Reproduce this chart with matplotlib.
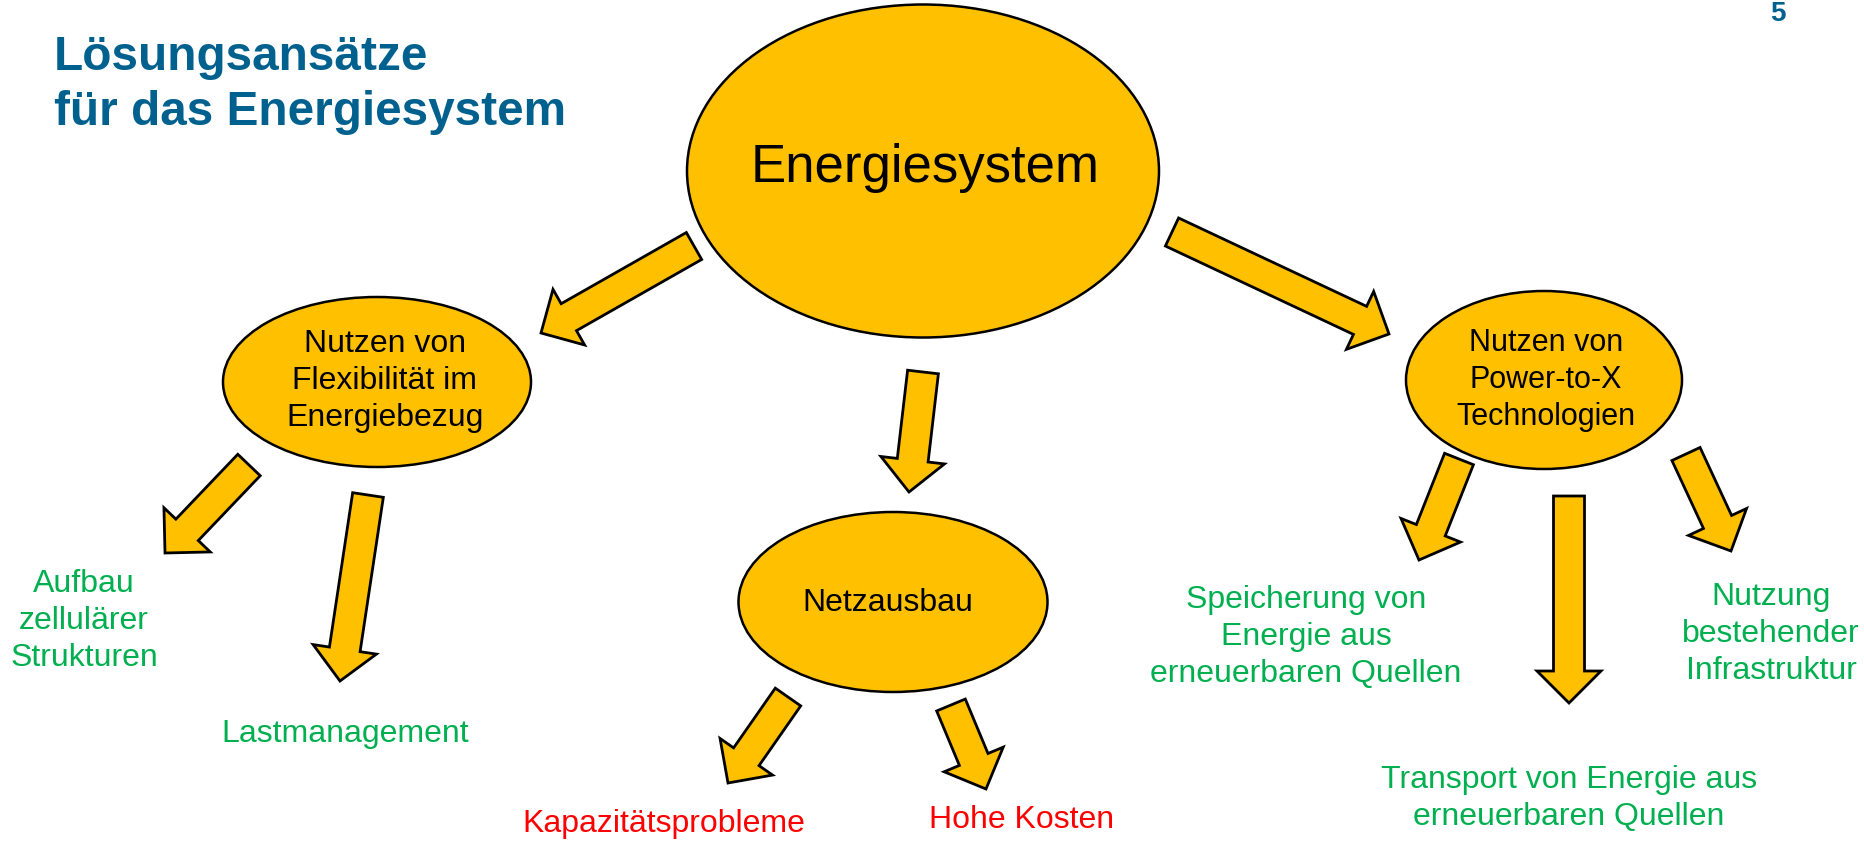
import matplotlib
matplotlib.use("Agg")
import matplotlib.pyplot as plt
from matplotlib.patches import Ellipse, FancyArrow

# canvas in pixels (dpi 100)
W, H = 1864, 842

GOLD = '#FFC000'
GREEN = '#00B050'
RED = '#FF0000'
BLUE = '#00618F'

plt.rcParams['font.family'] = ['Liberation Sans', 'DejaVu Sans']

# title
title_lines = ['Lösungsansätze', 'für das Energiesystem']
title_baselines = [70, 125]
page_number = '5'

# ellipse nodes
node_labels = ['Energiesystem',
               'Nutzen von\nFlexibilität im\nEnergiebezug',
               'Netzausbau',
               'Nutzen von\nPower-to-X\nTechnologien']
node_centres = [(923, 171), (377, 382), (893, 602), (1544, 380)]
node_sizes = [(472, 333), (308, 170), (309, 180), (276, 178)]
node_text_pos = [(925, 182), (385, 352), (888, 611), (1546, 351)]
node_fontsizes = [38, 23, 23, 22]

# leaf texts (no ellipse)
leaf_labels = ['Aufbau\nzellulärer\nStrukturen',
               'Lastmanagement',
               'Kapazitätsprobleme',
               'Hohe Kosten',
               'Speicherung von\nEnergie aus\nerneuerbaren Quellen',
               'Transport von Energie aus\nerneuerbaren Quellen',
               'Nutzung\nbestehender\nInfrastruktur']
leaf_colors = [GREEN, GREEN, RED, RED, GREEN, GREEN, GREEN]
leaf_text_pos = [(84, 592), (345, 742), (664, 832), (1022, 828),
                 (1306, 608), (1569, 788), (1771, 605)]

# block arrows: tail centre -> tip
arrow_tails = [(694, 246), (923, 372), (1172, 232),
               (249, 465), (368, 495),
               (788, 697), (951, 705),
               (1459, 459), (1569, 496), (1686, 454)]
arrow_tips = [(541, 333), (909, 492), (1389, 334),
              (165, 553), (340, 681),
              (728, 783), (986, 789),
              (1419, 560), (1569, 703), (1731, 551)]

LINE_STEP = 37

fig = plt.figure(figsize=(W / 100, H / 100), dpi=100)
ax = fig.add_axes([0, 0, 1, 1])
ax.set_xlim(0, W)
ax.set_ylim(H, 0)
ax.axis('off')


def multiline(x, y0, text, **kw):
    for i, line in enumerate(text.split('\n')):
        ax.text(x, y0 + i * LINE_STEP, line, ha='center', va='baseline', **kw)


for (tx, ty), (hx, hy) in zip(arrow_tails, arrow_tips):
    ax.add_patch(FancyArrow(tx, ty, hx - tx, hy - ty, width=31, head_width=64,
                            head_length=32, length_includes_head=True,
                            fc=GOLD, ec='black', lw=2.0, joinstyle='miter'))

for lab, c, (w, h), (x, y), fs in zip(node_labels, node_centres, node_sizes,
                                      node_text_pos, node_fontsizes):
    ax.add_patch(Ellipse(c, w, h, fc=GOLD, ec='black', lw=1.8))
    multiline(x, y, lab, fontsize=fs, color='black')

for lab, col, (x, y) in zip(leaf_labels, leaf_colors, leaf_text_pos):
    multiline(x, y, lab, fontsize=23, color=col)

for line, y in zip(title_lines, title_baselines):
    ax.text(54, y, line, ha='left', va='baseline', fontsize=34.4,
            fontweight='bold', color=BLUE)
ax.text(1778, 21, page_number, ha='center', va='baseline', fontsize=20,
        fontweight='bold', color=BLUE)

fig.savefig('out.png', dpi=100)
